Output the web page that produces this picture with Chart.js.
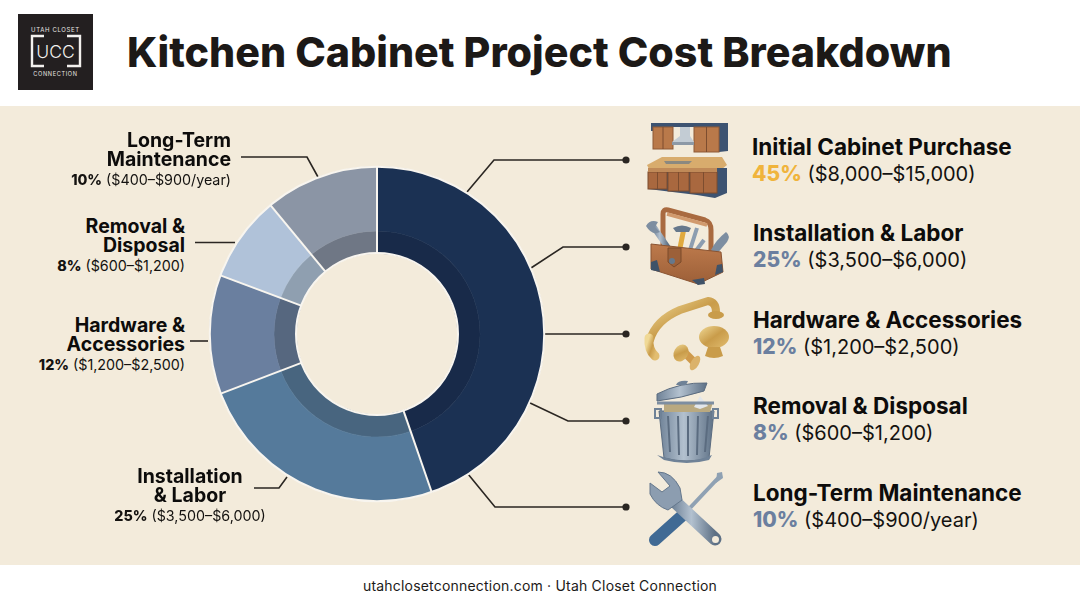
<!DOCTYPE html>
<html>
<head>
<meta charset="utf-8">
<title>Kitchen Cabinet Project Cost Breakdown</title>
<script src="https://cdn.jsdelivr.net/npm/chart.js@4/dist/chart.umd.min.js"></script>
<style>
html, body { margin: 0; padding: 0; background: #fff; }
body { width: 1080px; height: 603px; position: relative; overflow: hidden; font-family: Inter, "Noto Sans", sans-serif; color: #141210; }
#band { position: absolute; left: 0; top: 106px; width: 1080px; height: 459px; background: #f3ebdb; }
#title { position: absolute; left: 127px; top: 27px; font-size: 41.2px; line-height: 50px; font-weight: 800; white-space: nowrap; color: #1c1917; }
#footer { position: absolute; left: 0; width: 1080px; top: 576px; text-align: center; font-size: 14px; line-height: 20px; letter-spacing: .2px; color: #1c1a18; }
#chartBox { position: absolute; left: 206.5px; top: 164px; width: 340px; height: 340px; }
#art { position: absolute; left: 0; top: 0; }
.side { position: absolute; white-space: nowrap; text-align: right; font-size: 19.5px; font-weight: 700; color: #0d0c0b; }
.side div { height: 19px; line-height: 19px; }
.side span { display: block; font-size: 14.3px; line-height: 20px; font-weight: 400; margin-top: 1px; color: #141210; }
.side b { font-weight: 800; }
.row { position: absolute; left: 753px; white-space: nowrap; font-size: 22.5px; line-height: 27px; font-weight: 700; color: #0d0c0b; }
.row span { display: block; font-weight: 400; font-size: 20px; color: #141210; }
.row b { font-weight: 800; color: #6b7f9f; font-size: 21px; }
#row0 b { color: #f0b43c; }
#row0 { left: 752px; top: 133px; }
#row1 { top: 219px; }
#row2 { top: 306px; }
#row3 { top: 392px; }
#row4 { top: 479px; }
#side4 { right: 849px; top: 131px; }
#side3 { right: 895px; top: 217px; }
#side2 { right: 895px; top: 316px; }
#side1 { left: 90px; width: 200px; text-align: center; top: 467px; }
</style>
</head>
<body>
<div id="band"></div>
<div id="title">Kitchen Cabinet Project Cost Breakdown</div>
<div id="footer">utahclosetconnection.com · Utah Closet Connection</div>

<svg id="art" width="1080" height="603" viewBox="0 0 1080 603" font-family="Inter, sans-serif">
  <defs>
    <linearGradient id="steel" x1="0" y1="0" x2="1" y2="0">
      <stop offset="0" stop-color="#6f8297"/><stop offset=".45" stop-color="#b3c1cf"/><stop offset="1" stop-color="#5d7085"/>
    </linearGradient>
    <linearGradient id="brass" x1="0" y1="0" x2="1" y2="1">
      <stop offset="0" stop-color="#f0d996"/><stop offset=".5" stop-color="#c99c4a"/><stop offset="1" stop-color="#e2bd70"/>
    </linearGradient>
    <linearGradient id="leather" x1="0" y1="0" x2="0" y2="1">
      <stop offset="0" stop-color="#bd7a4c"/><stop offset="1" stop-color="#9c5f38"/>
    </linearGradient>
  </defs>

  <!-- logo -->
  <rect x="18" y="14" width="75" height="76" fill="#231f20"/>
  <text x="55.5" y="32" font-size="6" letter-spacing=".65" text-anchor="middle" fill="#e8e6e3">UTAH CLOSET</text>
  <text x="55.5" y="76" font-size="5.6" letter-spacing=".65" text-anchor="middle" fill="#e8e6e3">CONNECTION</text>
  <path d="M44 36 H32 V66 H44 M67 36 H80 V66 H67" fill="none" stroke="#f2f0ed" stroke-width="2.4"/>
  <text x="55.5" y="58" font-size="17.500" text-anchor="middle" fill="#f2f0ed" font-weight="300">UCC</text>

  <!-- leader lines -->
  <g fill="none" stroke="#2a2622" stroke-width="1.6">
    <path d="M467 192 L494 160 H626"/>
    <path d="M531 268 L563 247 H626"/>
    <path d="M543 334 H626"/>
    <path d="M528 402 L568 421 H626"/>
    <path d="M468 474 L495 507 H626"/>
    <path d="M241 157 H307 L318 177"/>
    <path d="M195 242.5 H235"/>
    <path d="M190 341 H208"/>
    <path d="M254 488 H279 L287 477"/>
  </g>
  <g fill="#2a2622">
    <circle cx="626" cy="160" r="3.6"/><circle cx="626" cy="247" r="3.6"/><circle cx="626" cy="334" r="3.6"/>
    <circle cx="626" cy="421" r="3.6"/><circle cx="626" cy="507" r="3.6"/>
  </g>

  <!-- cabinets icon -->
  <g>
    <path d="M651 123 H728 V151 L719 152 V127 H653 V131 H651 Z" fill="#3d5371"/>
    <rect x="653" y="127" width="20" height="22" fill="#b9794a" stroke="#8e5a37"/>
    <rect x="694" y="127" width="25" height="25" fill="#b9794a" stroke="#8e5a37"/>
    <path d="M663 127 V149 M706.500 127 V152" stroke="#7d4d2f"/>
    <path d="M680 127 H690 V136 L694 142 H672 L680 136 Z" fill="#c3ccd4"/>
    <path d="M672 142 H694 V145 H672 Z" fill="#8d99a6"/>
    <path d="M647 165 L662 157 H722 L727 165 L722 169 H649 Z" fill="#d8ac6d"/>
    <path d="M664 161 H692 L689 164 H666 Z" fill="#8b8980"/>
    <path d="M648 168 H727 V193 L715 198 L697 195 L648 189 Z" fill="#3d5371"/>
    <g fill="#a9683f" stroke="#7d4d2f">
      <rect x="648" y="172" width="19" height="17"/><rect x="668" y="172" width="21" height="19"/>
      <rect x="690" y="172" width="27" height="21"/>
    </g>
    <path d="M657.500 172 V189 M678.500 172 V191 M703.500 172 V193" stroke="#7d4d2f"/>
    <path d="M648 168 H717 V172 H648 Z" fill="#c08a58"/>
  </g>

  <!-- toolbox icon -->
  <g>
    <path d="M663 248 V214 Q663 209 668 210 L705 220 Q711 222 711 230 V254" fill="none" stroke="#a96a40" stroke-width="5"/>
    <path d="M667 214 L707 225" stroke="#d19a6e" stroke-width="3.500"/>
    <path d="M653 226 L668 248" stroke="url(#steel)" stroke-width="6"/>
    <path d="M646 226 Q650 219 658 222 L655 227 L660 232 Q652 236 646 226 Z" fill="#7d8ea1"/>
    <path d="M684 228 L680 248" stroke="#e0a93d" stroke-width="5"/>
    <path d="M673 228 Q682 223 691 228 L689 232 H676 Z" fill="#66788c"/>
    <path d="M697 228 L690 250 M704 240 L695 252" stroke="#8c9db0" stroke-width="4"/>
    <path d="M726 232 Q731 236 727 242 L716 255 L711 250 Q716 240 726 232 Z" fill="#7d8ea1"/>
    <path d="M651 244 L721 252 L723 272 L698 284 L651 269 Z" fill="url(#leather)" stroke="#8a5432"/>
    <path d="M668 248 H681 V262 L674 267 L668 262 Z" fill="#9c6039" stroke="#7a4a2b"/>
    <circle cx="672" cy="261" r="3" fill="#66788c"/>
    <path d="M651 262 L657 260 L660 272 L651 270 Z M692 280 L704 278 L705 284 L698 285 Z M717 265 L722 264 L723 272 L715 275 Z" fill="#3f5268"/>
  </g>

  <!-- handle and knobs icon -->
  <g>
    <path d="M650 340 Q656 320 680 310 L708 301 Q716 302 716 312" fill="none" stroke="url(#brass)" stroke-width="8" stroke-linecap="round"/>
    <ellipse cx="716" cy="315" rx="8" ry="4" fill="#c99c4a"/>
    <path d="M649 338 Q648 350 655 356" fill="none" stroke="url(#brass)" stroke-width="9" stroke-linecap="round"/>
    <ellipse cx="714" cy="337" rx="15" ry="11" fill="url(#brass)"/>
    <path d="M708 347 H720 L723 356 Q714 360 705 356 Z" fill="#c99c4a"/>
    <path d="M680 348 L694 362" stroke="#cf9a4c" stroke-width="8"/>
    <ellipse cx="681" cy="353" rx="7" ry="9" transform="rotate(30 681 353)" fill="url(#brass)"/>
    <ellipse cx="695" cy="363" rx="4" ry="8" transform="rotate(30 695 363)" fill="#dbb26a"/>
  </g>

  <!-- trash can icon -->
  <g>
    <path d="M659 411 H714 L709 458 Q687 464 664 458 Z" fill="url(#steel)" stroke="#5b6c80"/>
    <path d="M668 416 L670 452 M678 416 L679 455 M688 416 V456 M698 416 L697 455 M708 416 L705 452" stroke="#5b6c80" stroke-width="2"/>
    <path d="M655 409 H661 V418 H655 Z M713 409 H718 V418 H713 Z" fill="none" stroke="#6f8297" stroke-width="2"/>
    <path d="M664 402 H713 L710 412 H664 Z" fill="#b9a980"/>
    <path d="M694 407 L700 396 L708 406 L700 409 Z" fill="#e2e6ea"/>
    <path d="M657 394 Q680 382 707 383 L704 391 Q682 398 657 401 Z" fill="url(#steel)" stroke="#5b6c80"/>
    <path d="M676 385 Q678 380 688 381 L686 385 Z" fill="#6f8297"/>
    <path d="M657 403 L714 403" stroke="#7d8ea1" stroke-width="3"/>
    <path d="M657 455 Q687 466 712 455 L709 460 Q687 466 664 460 Z" fill="#6f8297"/>
  </g>

  <!-- wrench and screwdriver icon -->
  <g>
    <path d="M721 475 L688 510" stroke="#8fa1b3" stroke-width="4"/>
    <path d="M717 473 L722 472 L723 478 L716 483 Z" fill="#8fa1b3"/>
    <path d="M684 514 L655 540" stroke="#406a94" stroke-width="12" stroke-linecap="round"/>
    <path d="M680 510 L689 519" stroke="#2f4f70" stroke-width="4"/>
    <path d="M672 499 L715 539" stroke="url(#steel)" stroke-width="13" stroke-linecap="round"/>
    <circle cx="715.500" cy="539.500" r="3.500" fill="#f3ebdb"/>
    <path d="M658 472 Q672 472 680 488 L682 500 L668 510 Q656 506 650 494 L650 483 L662 492 L670 486 Z" fill="#8c9db0" stroke="#64778c"/>
  </g>
</svg>

<div id="chartBox"><canvas id="donut"></canvas></div>

<div class="side" id="side4"></div>
<div class="side" id="side3"></div>
<div class="side" id="side2"></div>
<div class="side" id="side1"></div>
<div class="row" id="row0"></div>
<div class="row" id="row1"></div>
<div class="row" id="row2"></div>
<div class="row" id="row3"></div>
<div class="row" id="row4"></div>

<script>
const categories = ['Initial Cabinet Purchase', 'Installation & Labor', 'Hardware & Accessories', 'Removal & Disposal', 'Long-Term Maintenance'];
const sideLabels = [null, ['Installation', '& Labor'], ['Hardware &', 'Accessories'], ['Removal &', 'Disposal'], ['Long-Term', 'Maintenance']];
const percents = ['45%', '25%', '12%', '8%', '10%'];
const costRanges = ['($8,000–$15,000)', '($3,500–$6,000)', '($1,200–$2,500)', '($600–$1,200)', '($400–$900/year)'];
// slice sizes as drawn in the picture, they are a bit off the printed percents
const sliceShares = [44.7, 24.5, 11.5, 8.3, 11];
const outerColors = ['#1b3153', '#557a9b', '#6a7f9f', '#b0c2d9', '#8b95a5'];
const innerColors = ['#182a49', '#48657f', '#56677f', '#8f9fb0', '#6f7785'];

categories.forEach(function (name, i) {
    document.getElementById('row' + i).innerHTML =
        name.replace('&', '&amp;') + '<span><b>' + percents[i] + '</b> ' + costRanges[i] + '</span>';
    if (sideLabels[i]) {
        const lines = sideLabels[i].map(line => '<div>' + line.replace('&', '&amp;') + '</div>').join('');
        document.getElementById('side' + i).innerHTML =
            lines + '<span><b>' + percents[i] + '</b> ' + costRanges[i] + '</span>';
    }
});

// white separators and rim, the rings only have a hairline in their own colour so there is no seam between them
const separators = {
    id: 'separators',
    afterDatasetsDraw(chart) {
        const c = chart.ctx;
        const outer = chart.getDatasetMeta(0).data;
        const inner = chart.getDatasetMeta(1).data;
        c.save();
        c.strokeStyle = '#f8f5ef';
        c.lineWidth = 2;
        outer.forEach(function (arc, i) {
            const a = arc.startAngle;
            c.beginPath();
            c.moveTo(arc.x + inner[i].innerRadius * Math.cos(a), arc.y + inner[i].innerRadius * Math.sin(a));
            c.lineTo(arc.x + arc.outerRadius * Math.cos(a), arc.y + arc.outerRadius * Math.sin(a));
            c.stroke();
        });
        c.beginPath();
        c.arc(outer[0].x, outer[0].y, outer[0].outerRadius, 0, Math.PI * 2);
        c.stroke();
        c.beginPath();
        c.arc(outer[0].x, outer[0].y, inner[0].innerRadius, 0, Math.PI * 2);
        c.stroke();
        c.restore();
    }
};

new Chart(document.getElementById('donut').getContext('2d'), {
    type: 'doughnut',
    data: {
        labels: categories,
        datasets: [
            { data: sliceShares, backgroundColor: outerColors, borderColor: outerColors, borderWidth: 0.6, hoverOffset: 0, weight: 64 },
            { data: sliceShares, backgroundColor: innerColors, borderColor: innerColors, borderWidth: 0.6, hoverOffset: 0, weight: 22 }
        ]
    },
    options: {
        responsive: true,
        maintainAspectRatio: false,
        animation: false,
        cutout: 81,
        layout: { padding: 2.5 },
        plugins: { legend: { display: false }, tooltip: { enabled: false } }
    },
    plugins: [separators]
});
</script>
</body>
</html>
